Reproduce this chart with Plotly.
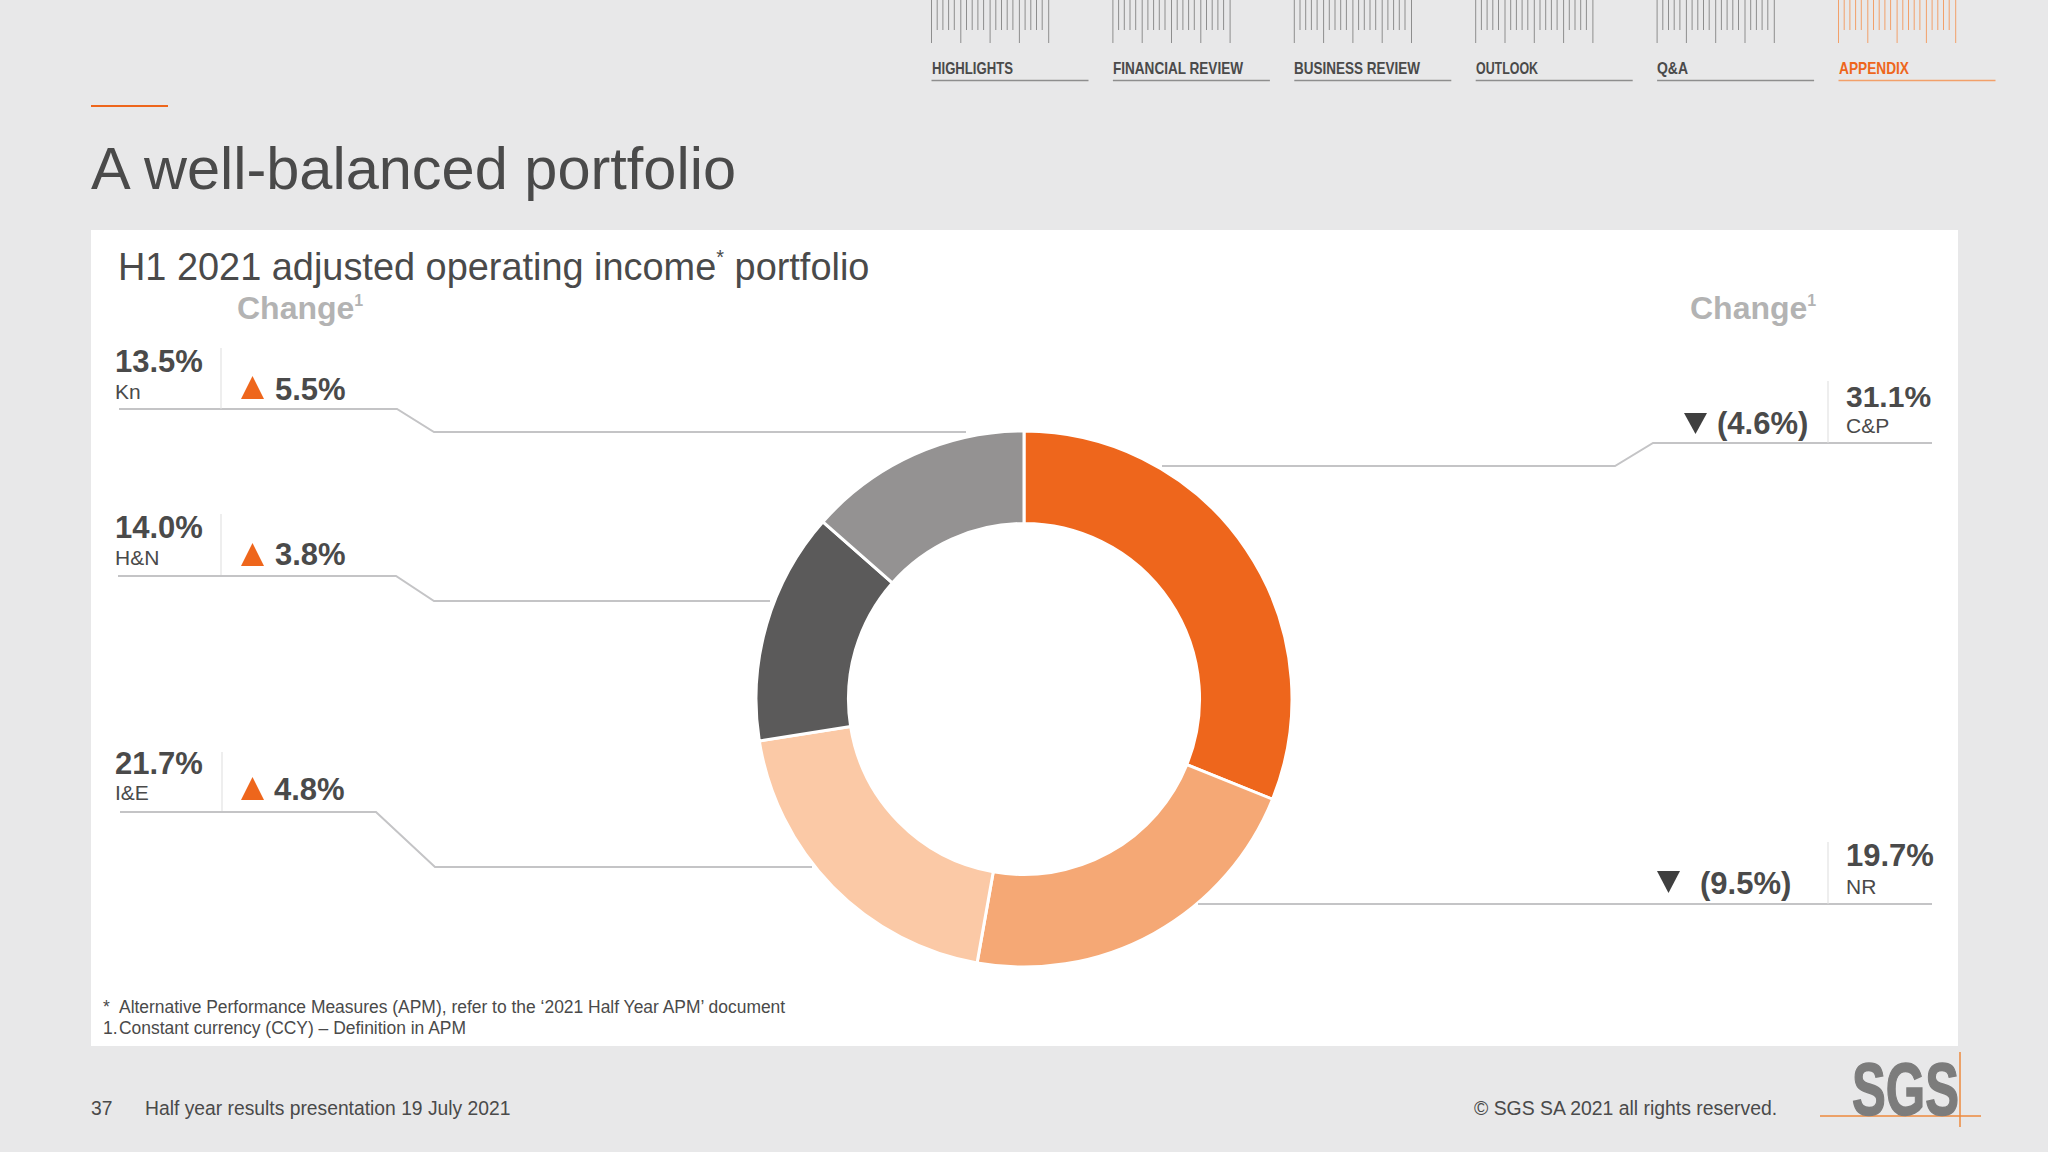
import json

import plotly.graph_objects as go

W = 2048
H = 1152

segments = ['C&P', 'I&E', 'NR', 'H&N', 'Kn']
shares = [31.1, 21.7, 19.7, 14.0, 13.5]
slice_colors = ['#EE661C', '#F5A875', '#FBC9A6', '#5B5A5A', '#949292']
changes = ['(4.6%)', '4.8%', '(9.5%)', '3.8%', '5.5%']
nav_labels = ['HIGHLIGHTS', 'FINANCIAL REVIEW', 'BUSINESS REVIEW', 'OUTLOOK', 'Q&A', 'APPENDIX']

DARK = '#4A4A4A'
ORANGE = '#EE661C'
LINE = '#C4C4C6'
SANS = 'Liberation Sans'
STAR = '<sup><span style="font-size:20px">*</span></sup>'
ONE = '<sup><span style="font-size:16px">1</span></sup>'

# no narrow face is installed, so these get squeezed to their measured width below
squeeze = {'HIGHLIGHTS': 81, 'FINANCIAL REVIEW': 130, 'BUSINESS REVIEW': 126,
           'OUTLOOK': 62, 'Q&A': 31, 'APPENDIX': 70, 'SGS': 107}

shapes = []
notes = []


def line(x0, y0, x1, y1, color=LINE, width=2):
    shapes.append(dict(type='line', xref='paper', yref='paper', x0=x0 / W, x1=x1 / W,
                       y0=1 - y0 / H, y1=1 - y1 / H, line=dict(color=color, width=width)))


def path(points, color, width=2, closed=False):
    d = 'M ' + ' L '.join(f'{x / W:.5f},{1 - y / H:.5f}' for x, y in points)
    if closed:
        d += ' Z'
    shapes.append(dict(type='path', xref='paper', yref='paper', path=d,
                       line=dict(color=color if not closed else 'rgba(0,0,0,0)', width=width),
                       fillcolor=color if closed else None))


def text(x, y, s, size, color=DARK, bold=False, anchor='left'):
    notes.append(dict(xref='paper', yref='paper', x=x / W, y=1 - y / H, text=s, showarrow=False,
                      xanchor=anchor, yanchor='middle', borderpad=0, align=anchor,
                      font=dict(family=SANS, size=size, color=color, weight=700 if bold else 400)))


def tri(x0, x1, y0, y1, up, color):
    if up:
        path([(x0, y1), (x1, y1), ((x0 + x1) / 2, y0)], color, closed=True)
    else:
        path([(x0, y0), (x1, y0), ((x0 + x1) / 2, y1)], color, closed=True)


# white panel
shapes.append(dict(type='rect', xref='paper', yref='paper', x0=91 / W, x1=1958 / W,
                   y0=1 - 1046 / H, y1=1 - 230 / H, fillcolor='white', line=dict(width=0), layer='below'))

# top nav with the barcode ticks
for i, lab in enumerate(nav_labels):
    x0 = 931.5 + i * 181.4
    tick = '#F2A06A' if lab == 'APPENDIX' else '#8E8E8E'
    for k in range(5):
        line(x0 + k * 29.3, 0, x0 + k * 29.3, 43, tick, 1)
    for k in range(4):
        for j in range(1, 5):
            xs = x0 + k * 29.3 + j * 5.7
            line(xs, 0, xs, 30, tick, 1)
    col = ORANGE if lab == 'APPENDIX' else DARK
    text(x0 - 1, 67.5, lab, 16.5, col, bold=True)
    line(x0, 80.5, x0 + 157, 80.5, tick, 1.5)

# heading
line(91, 106, 168, 106, ORANGE, 2)
text(90, 168, 'A well-balanced portfolio', 59.5, DARK)
text(117, 267, 'H1 2021 adjusted operating income' + STAR + ' portfolio', 37.9, DARK)
text(236, 308, 'Change' + ONE, 32, '#B3B3B3', bold=True)
text(1689, 308, 'Change' + ONE, 32, '#B3B3B3', bold=True)

# left rows
path([(119, 409), (397, 409), (434, 432), (966, 432)], LINE)
line(221, 348, 221, 409, '#DDDDDD', 1)
text(114, 361, f'{shares[4]:.1f}%', 31, DARK, bold=True)
text(114, 391, segments[4], 21, DARK)
tri(241, 264, 376, 399, True, ORANGE)
text(274, 389, changes[4], 31, DARK, bold=True)

path([(118, 576), (396, 576), (434, 601), (770, 601)], LINE)
line(221, 514, 221, 575, '#DDDDDD', 1)
text(114, 528, f'{shares[3]:.1f}%', 31, DARK, bold=True)
text(114, 557, segments[3], 21, DARK)
tri(241, 264, 543, 566, True, ORANGE)
text(274, 555, changes[3], 31, DARK, bold=True)

path([(120, 812), (376, 812), (435, 867), (812, 867)], LINE)
line(222, 752, 222, 811, '#DDDDDD', 1)
text(114, 763, f'{shares[1]:.1f}%', 31, DARK, bold=True)
text(114, 792, segments[1], 21, DARK)
tri(241, 264, 777, 800, True, ORANGE)
text(273, 789, changes[1], 31, DARK, bold=True)

# right rows
path([(1932, 443), (1653, 443), (1615, 466), (1162, 466)], LINE)
line(1828, 381, 1828, 443, '#DDDDDD', 1)
text(1845, 396, f'{shares[0]:.1f}%', 30, DARK, bold=True)
text(1845, 425, segments[0], 21, DARK)
tri(1684, 1707, 413, 434, False, '#3F3F3F')
text(1716, 423, changes[0], 31, DARK, bold=True)

path([(1932, 904), (1198, 904)], LINE)
line(1828, 842, 1828, 904, '#DDDDDD', 1)
text(1845, 855, f'{shares[2]:.1f}%', 31, DARK, bold=True)
text(1845, 886, segments[2], 21, DARK)
tri(1657, 1680, 871, 893, False, '#3F3F3F')
text(1699, 883, changes[2], 31, DARK, bold=True)

# footnotes and footer
text(102, 1007, '*', 17.5, DARK)
text(118, 1007, 'Alternative Performance Measures (APM), refer to the ‘2021 Half Year APM’ document', 17.45, DARK)
text(102, 1028, '1.', 17.5, DARK)
text(118, 1028, 'Constant currency (CCY) – Definition in APM', 17.45, DARK)
text(90, 1108, '37', 19.3, DARK)
text(144, 1108, 'Half year results presentation 19 July 2021', 19.3, DARK)
text(1778, 1108, '© SGS SA 2021 all rights reserved.', 19.4, DARK, anchor='right')

# logo
text(1851, 1089, 'SGS', 74, '#7C7C7C', bold=True)
line(1820, 1116, 1981, 1116, '#EE8A3C', 1.5)
line(1960, 1052, 1960, 1127, '#EE8A3C', 1.5)

fig = go.Figure(go.Pie(
    labels=segments,
    values=shares,
    sort=False,
    direction='clockwise',
    rotation=0,
    hole=0.655,
    textinfo='none',
    marker=dict(colors=slice_colors, line=dict(color='white', width=3)),
    domain=dict(x=[(1024 - 268) / W, (1024 + 268) / W], y=[1 - (699 + 268) / H, 1 - (699 - 268) / H]),
    showlegend=False,
))

fig.update_layout(
    width=W,
    height=H,
    margin=dict(l=0, r=0, t=0, b=0),
    paper_bgcolor='#E8E8E9',
    plot_bgcolor='#E8E8E9',
    shapes=shapes,
    annotations=notes,
)

post = """
document.body.style.margin = '0';
var squeeze = %s;
function squeezeText() {
  document.querySelectorAll('.annotation-text').forEach(function (t) {
    var w = squeeze[t.textContent];
    if (w) {
      t.setAttribute('textLength', w);
      t.setAttribute('lengthAdjust', 'spacingAndGlyphs');
      if (t.textContent === 'SGS') {
        t.style.stroke = '#7C7C7C';
        t.style.strokeWidth = '1.5px';
      }
    }
  });
}
squeezeText();
setTimeout(squeezeText, 200);
""" % json.dumps(squeeze)

fig.write_html("out.html", post_script=post, config=dict(displayModeBar=False))
